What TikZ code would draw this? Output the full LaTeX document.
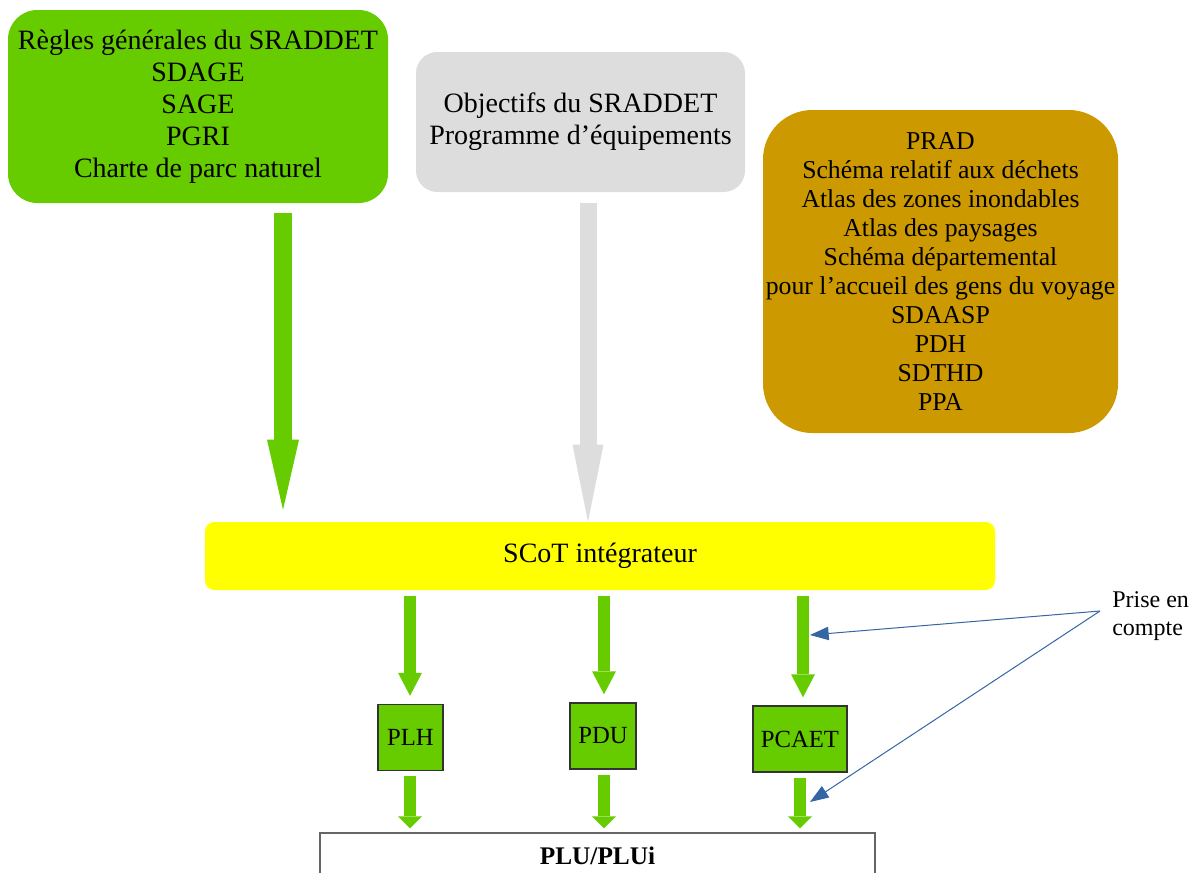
\documentclass[tikz,border=0pt]{standalone}
\usepackage{fontspec}
\setmainfont{Liberation Serif}
\usetikzlibrary{arrows.meta}
\definecolor{vert}{HTML}{66CC00}
\definecolor{gris}{HTML}{DDDDDD}
\definecolor{ocre}{HTML}{CC9900}
\definecolor{jaune}{HTML}{FFFF00}
\definecolor{bleu}{HTML}{3465A4}
\begin{document}
\begin{tikzpicture}[x=0.75pt, y=-0.75pt,
  bloc/.style={align=center, inner sep=0pt, font=\fontsize{21pt}{24pt}\selectfont},
  plan/.style={draw=black!80, line width=1.1pt, fill=vert, inner sep=0pt, minimum height=49.5pt, font=\fontsize{18.5pt}{21pt}\selectfont},
  fleche/.style={color=vert, line width=9pt, -{Triangle[length=17.25pt, width=18pt, line width=0pt]}},
  flechecourte/.style={color=vert, line width=9pt, -{Triangle[length=9pt, width=18pt, line width=0pt]}},
  renvoi/.style={color=bleu, line width=0.75pt, -{Triangle[length=14pt, width=10pt]}}]
\path[use as bounding box, clip] (0,0) rectangle (1199,872);

% Documents de rang superieur
\node[bloc, fill=vert, rounded corners=22pt, minimum width=285pt, minimum height=144.75pt] (regles) at (198,106.5)
  {R\`egles g\'en\'erales du SRADDET\\SDAGE\\SAGE\\PGRI\\Charte de parc naturel};
\node[bloc, fill=gris, rounded corners=16pt, minimum width=246.75pt, minimum height=105pt] (objectifs) at (580.5,122)
  {Objectifs du SRADDET\\Programme d’\'equipements};
\node[bloc, fill=ocre, rounded corners=37pt, minimum width=266.25pt, minimum height=242.25pt,
  font=\fontsize{19.3pt}{21.75pt}\selectfont] (autres) at (940.5,271.5)
  {PRAD\\Sch\'ema relatif aux d\'echets\\Atlas des zones inondables\\Atlas des paysages\\Sch\'ema d\'epartemental\\pour l’accueil des gens du voyage\\SDAASP\\PDH\\SDTHD\\PPA};

% SCoT
\node[bloc, fill=jaune, rounded corners=7pt, minimum width=592.5pt, minimum height=51pt] (scot) at (600,556) {SCoT int\'egrateur};

% Prescriptions vers le SCoT
\draw[color=vert, line width=13.5pt, -{Triangle[length=52.5pt, width=24pt, line width=0pt]}, shorten <=7.5pt, shorten >=9pt]
  (regles.south -| 283,0) -- (scot.north -| 283,0);
\draw[color=gris, line width=12.75pt, -{Triangle[length=57.75pt, width=23.25pt, line width=0pt]}, shorten <=8.25pt]
  (objectifs.south -| 588,0) -- (scot.north -| 588,0);

% Plans thematiques
\node[plan, minimum width=48.75pt] (plh) at (410.5,737.5) {PLH};
\node[plan, minimum width=49.5pt] (pdu) at (603,736) {PDU};
\node[plan, minimum width=70.5pt] (pcaet) at (800,739) {PCAET};

% PLU
\node[draw=black!60, line width=1.1pt, fill=white, inner sep=0pt, minimum width=416.25pt, minimum height=34.5pt,
  font=\fontsize{19pt}{22pt}\selectfont\bfseries] (plu) at (597.5,856) {PLU/PLUi};

% SCoT vers les plans
\foreach \p/\x in {plh/410, pdu/604, pcaet/803}
  \draw[fleche, shorten <=4.5pt, shorten >=6pt] (scot.south -| \x,0) -- (\p.north -| \x,0);
\foreach \p/\x in {plh/410, pdu/604, pcaet/800}
  \draw[flechecourte, shorten <=3.75pt, shorten >=3pt] (\p.south -| \x,0) -- (plu.north -| \x,0);

% Prise en compte
\node[align=left, anchor=west, inner sep=0pt, font=\fontsize{18pt}{21pt}\selectfont] (prise) at (1112,616) {Prise en\\compte};
\coordinate (depart) at (1100,611);
\coordinate (cible1) at (810,635);
\coordinate (cible2) at (810,802);
\draw[renvoi] (depart) -- (cible1);
\draw[renvoi] (depart) -- (cible2);
\end{tikzpicture}
\end{document}
